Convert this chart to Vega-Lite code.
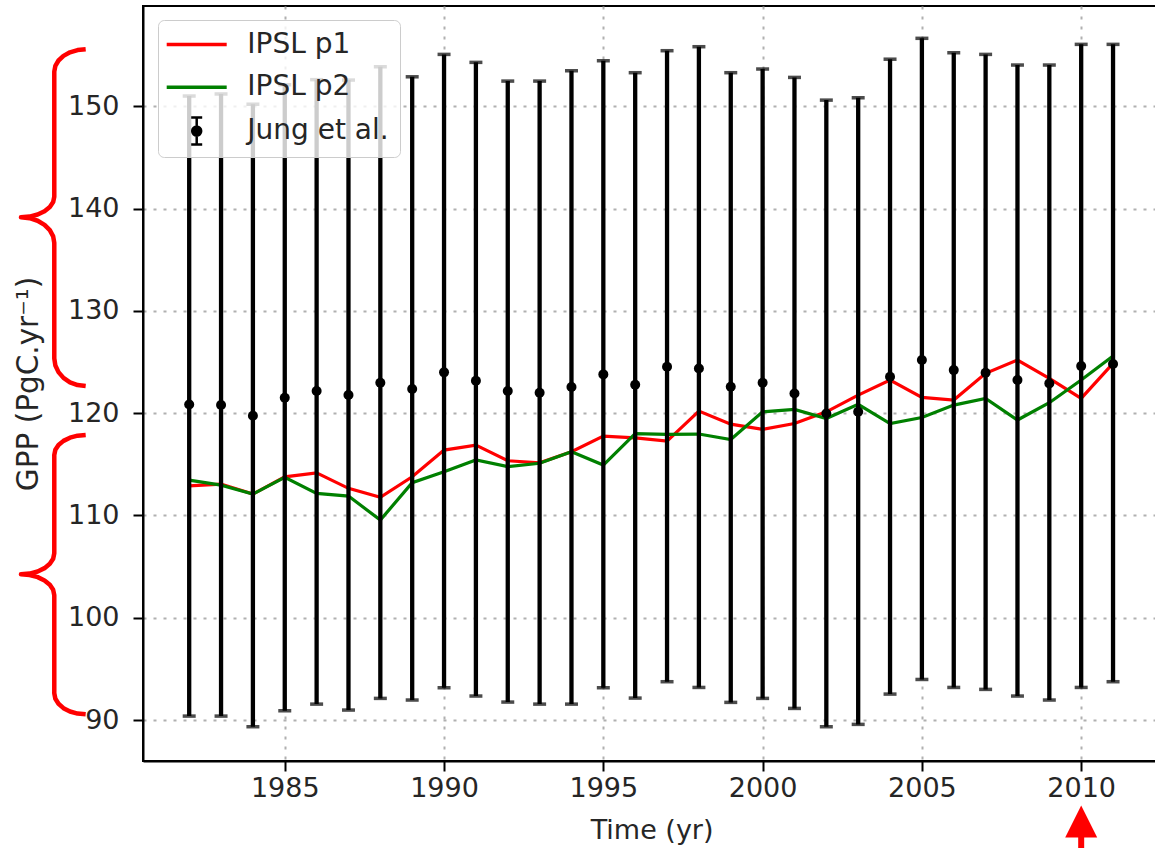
{
  "$schema": "https://vega.github.io/schema/vega-lite/v6.json",
  "width": 1014,
  "height": 755,
  "autosize": {"type": "none"},
  "padding": {"left": 143, "top": 6, "right": -2, "bottom": 87},
  "background": "white",
  "config": {
    "font": "DejaVu Sans",
    "view": {"stroke": "#000000", "strokeWidth": 2},
    "axis": {
      "labelFont": "DejaVu Sans", "labelFontSize": 27, "labelColor": "#262626",
      "titleFont": "DejaVu Sans", "titleFontSize": 27, "titleColor": "#262626", "titleFontWeight": "normal",
      "domainColor": "#000000", "domainWidth": 2, "tickColor": "#000000", "tickWidth": 2, "tickSize": 10,
      "gridColor": "#b0b0b0", "gridWidth": 2, "gridDash": [3, 7]
    }
  },
  "datasets": {
    "ipsl": [
      {"year": 1982, "series": "IPSL p1", "gpp": 112.90}, {"year": 1983, "series": "IPSL p1", "gpp": 113.07},
      {"year": 1984, "series": "IPSL p1", "gpp": 112.09}, {"year": 1985, "series": "IPSL p1", "gpp": 113.78},
      {"year": 1986, "series": "IPSL p1", "gpp": 114.17}, {"year": 1987, "series": "IPSL p1", "gpp": 112.65},
      {"year": 1988, "series": "IPSL p1", "gpp": 111.77}, {"year": 1989, "series": "IPSL p1", "gpp": 113.78},
      {"year": 1990, "series": "IPSL p1", "gpp": 116.39}, {"year": 1991, "series": "IPSL p1", "gpp": 116.88},
      {"year": 1992, "series": "IPSL p1", "gpp": 115.35}, {"year": 1993, "series": "IPSL p1", "gpp": 115.15},
      {"year": 1994, "series": "IPSL p1", "gpp": 116.23}, {"year": 1995, "series": "IPSL p1", "gpp": 117.76},
      {"year": 1996, "series": "IPSL p1", "gpp": 117.58}, {"year": 1997, "series": "IPSL p1", "gpp": 117.27},
      {"year": 1998, "series": "IPSL p1", "gpp": 120.20}, {"year": 1999, "series": "IPSL p1", "gpp": 118.93},
      {"year": 2000, "series": "IPSL p1", "gpp": 118.41}, {"year": 2001, "series": "IPSL p1", "gpp": 118.99},
      {"year": 2002, "series": "IPSL p1", "gpp": 120.13}, {"year": 2003, "series": "IPSL p1", "gpp": 121.77},
      {"year": 2004, "series": "IPSL p1", "gpp": 123.24}, {"year": 2005, "series": "IPSL p1", "gpp": 121.54},
      {"year": 2006, "series": "IPSL p1", "gpp": 121.28}, {"year": 2007, "series": "IPSL p1", "gpp": 123.89},
      {"year": 2008, "series": "IPSL p1", "gpp": 125.19}, {"year": 2009, "series": "IPSL p1", "gpp": 123.40},
      {"year": 2010, "series": "IPSL p1", "gpp": 121.44}, {"year": 2011, "series": "IPSL p1", "gpp": 124.87},
      {"year": 1982, "series": "IPSL p2", "gpp": 113.46}, {"year": 1983, "series": "IPSL p2", "gpp": 112.97},
      {"year": 1984, "series": "IPSL p2", "gpp": 112.09}, {"year": 1985, "series": "IPSL p2", "gpp": 113.72},
      {"year": 1986, "series": "IPSL p2", "gpp": 112.16}, {"year": 1987, "series": "IPSL p2", "gpp": 111.90},
      {"year": 1988, "series": "IPSL p2", "gpp": 109.55}, {"year": 1989, "series": "IPSL p2", "gpp": 113.20},
      {"year": 1990, "series": "IPSL p2", "gpp": 114.27}, {"year": 1991, "series": "IPSL p2", "gpp": 115.42},
      {"year": 1992, "series": "IPSL p2", "gpp": 114.77}, {"year": 1993, "series": "IPSL p2", "gpp": 115.10},
      {"year": 1994, "series": "IPSL p2", "gpp": 116.23}, {"year": 1995, "series": "IPSL p2", "gpp": 114.93},
      {"year": 1996, "series": "IPSL p2", "gpp": 118.01}, {"year": 1997, "series": "IPSL p2", "gpp": 117.92},
      {"year": 1998, "series": "IPSL p2", "gpp": 117.96}, {"year": 1999, "series": "IPSL p2", "gpp": 117.43},
      {"year": 2000, "series": "IPSL p2", "gpp": 120.13}, {"year": 2001, "series": "IPSL p2", "gpp": 120.36},
      {"year": 2002, "series": "IPSL p2", "gpp": 119.48}, {"year": 2003, "series": "IPSL p2", "gpp": 120.86},
      {"year": 2004, "series": "IPSL p2", "gpp": 118.99}, {"year": 2005, "series": "IPSL p2", "gpp": 119.58},
      {"year": 2006, "series": "IPSL p2", "gpp": 120.79}, {"year": 2007, "series": "IPSL p2", "gpp": 121.44},
      {"year": 2008, "series": "IPSL p2", "gpp": 119.33}, {"year": 2009, "series": "IPSL p2", "gpp": 121.02},
      {"year": 2010, "series": "IPSL p2", "gpp": 123.24}, {"year": 2011, "series": "IPSL p2", "gpp": 125.58}
    ],
    "jung": [
      {"year": 1982, "gpp": 120.85, "lo": 90.39, "hi": 151.00},
      {"year": 1983, "gpp": 120.80, "lo": 90.39, "hi": 151.20},
      {"year": 1984, "gpp": 119.75, "lo": 89.35, "hi": 150.20},
      {"year": 1985, "gpp": 121.50, "lo": 90.91, "hi": 152.10},
      {"year": 1986, "gpp": 122.16, "lo": 91.56, "hi": 152.60},
      {"year": 1987, "gpp": 121.77, "lo": 90.98, "hi": 152.56},
      {"year": 1988, "gpp": 122.97, "lo": 92.12, "hi": 153.86},
      {"year": 1989, "gpp": 122.36, "lo": 91.96, "hi": 152.88},
      {"year": 1990, "gpp": 123.99, "lo": 93.16, "hi": 155.07},
      {"year": 1991, "gpp": 123.17, "lo": 92.35, "hi": 154.29},
      {"year": 1992, "gpp": 122.16, "lo": 91.76, "hi": 152.46},
      {"year": 1993, "gpp": 121.99, "lo": 91.56, "hi": 152.46},
      {"year": 1994, "gpp": 122.55, "lo": 91.56, "hi": 153.47},
      {"year": 1995, "gpp": 123.79, "lo": 93.16, "hi": 154.45},
      {"year": 1996, "gpp": 122.78, "lo": 92.15, "hi": 153.28},
      {"year": 1997, "gpp": 124.54, "lo": 93.75, "hi": 155.43},
      {"year": 1998, "gpp": 124.37, "lo": 93.19, "hi": 155.82},
      {"year": 1999, "gpp": 122.59, "lo": 91.73, "hi": 153.28},
      {"year": 2000, "gpp": 122.97, "lo": 92.12, "hi": 153.64},
      {"year": 2001, "gpp": 121.93, "lo": 91.14, "hi": 152.82},
      {"year": 2002, "gpp": 119.97, "lo": 89.35, "hi": 150.60},
      {"year": 2003, "gpp": 120.13, "lo": 89.58, "hi": 150.83},
      {"year": 2004, "gpp": 123.56, "lo": 92.54, "hi": 154.60},
      {"year": 2005, "gpp": 125.19, "lo": 93.97, "hi": 156.64},
      {"year": 2006, "gpp": 124.21, "lo": 93.19, "hi": 155.23},
      {"year": 2007, "gpp": 123.95, "lo": 93.00, "hi": 155.07},
      {"year": 2008, "gpp": 123.24, "lo": 92.35, "hi": 154.03},
      {"year": 2009, "gpp": 122.91, "lo": 91.96, "hi": 154.03},
      {"year": 2010, "gpp": 124.60, "lo": 93.19, "hi": 156.05},
      {"year": 2011, "gpp": 124.80, "lo": 93.75, "hi": 156.05}
    ],
    "brace": [
      {"id": "a", "i": 0, "x": 1978.751, "y": 155.568}, {"id": "a", "i": 1, "x": 1978.496, "y": 155.493},
      {"id": "a", "i": 2, "x": 1978.258, "y": 155.274}, {"id": "a", "i": 3, "x": 1978.054, "y": 154.926},
      {"id": "a", "i": 4, "x": 1977.898, "y": 154.473}, {"id": "a", "i": 5, "x": 1977.799, "y": 153.945},
      {"id": "a", "i": 6, "x": 1977.765, "y": 153.378}, {"id": "a", "i": 7, "x": 1977.765, "y": 141.160},
      {"id": "a", "i": 8, "x": 1977.730, "y": 140.639}, {"id": "a", "i": 9, "x": 1977.625, "y": 140.153},
      {"id": "a", "i": 10, "x": 1977.459, "y": 139.735}, {"id": "a", "i": 11, "x": 1977.243, "y": 139.416},
      {"id": "a", "i": 12, "x": 1976.991, "y": 139.214}, {"id": "a", "i": 13, "x": 1976.720, "y": 139.146},
      {"id": "a", "i": 14, "x": 1976.991, "y": 139.060}, {"id": "a", "i": 15, "x": 1977.243, "y": 138.810},
      {"id": "a", "i": 16, "x": 1977.459, "y": 138.410}, {"id": "a", "i": 17, "x": 1977.625, "y": 137.890},
      {"id": "a", "i": 18, "x": 1977.730, "y": 137.284}, {"id": "a", "i": 19, "x": 1977.765, "y": 136.634},
      {"id": "a", "i": 20, "x": 1977.765, "y": 125.363}, {"id": "a", "i": 21, "x": 1977.799, "y": 124.663},
      {"id": "a", "i": 22, "x": 1977.898, "y": 124.010}, {"id": "a", "i": 23, "x": 1978.054, "y": 123.449},
      {"id": "a", "i": 24, "x": 1978.258, "y": 123.018}, {"id": "a", "i": 25, "x": 1978.496, "y": 122.748},
      {"id": "a", "i": 26, "x": 1978.751, "y": 122.656},
      {"id": "b", "i": 0, "x": 1978.751, "y": 117.866}, {"id": "b", "i": 1, "x": 1978.496, "y": 117.800},
      {"id": "b", "i": 2, "x": 1978.258, "y": 117.604}, {"id": "b", "i": 3, "x": 1978.054, "y": 117.293},
      {"id": "b", "i": 4, "x": 1977.898, "y": 116.889}, {"id": "b", "i": 5, "x": 1977.799, "y": 116.417},
      {"id": "b", "i": 6, "x": 1977.765, "y": 115.911}, {"id": "b", "i": 7, "x": 1977.765, "y": 106.303},
      {"id": "b", "i": 8, "x": 1977.730, "y": 105.771}, {"id": "b", "i": 9, "x": 1977.625, "y": 105.276},
      {"id": "b", "i": 10, "x": 1977.459, "y": 104.851}, {"id": "b", "i": 11, "x": 1977.243, "y": 104.525},
      {"id": "b", "i": 12, "x": 1976.991, "y": 104.320}, {"id": "b", "i": 13, "x": 1976.720, "y": 104.250},
      {"id": "b", "i": 14, "x": 1976.991, "y": 104.179}, {"id": "b", "i": 15, "x": 1977.243, "y": 103.975},
      {"id": "b", "i": 16, "x": 1977.459, "y": 103.649}, {"id": "b", "i": 17, "x": 1977.625, "y": 103.223},
      {"id": "b", "i": 18, "x": 1977.730, "y": 102.729}, {"id": "b", "i": 19, "x": 1977.765, "y": 102.197},
      {"id": "b", "i": 20, "x": 1977.765, "y": 92.618}, {"id": "b", "i": 21, "x": 1977.799, "y": 92.086},
      {"id": "b", "i": 22, "x": 1977.898, "y": 91.591}, {"id": "b", "i": 23, "x": 1978.054, "y": 91.166},
      {"id": "b", "i": 24, "x": 1978.258, "y": 90.840}, {"id": "b", "i": 25, "x": 1978.496, "y": 90.635},
      {"id": "b", "i": 26, "x": 1978.751, "y": 90.565}
    ],
    "arrow": [{"x": 2010, "head": 80.09, "s1": 78.77, "s2": 75.35}]
  },
  "layer": [
    {
      "data": {"name": "ipsl"},
      "mark": {"type": "line", "strokeWidth": 3.2},
      "encoding": {
        "x": {"field": "year", "type": "quantitative",
          "scale": {"domain": [1980.55, 2012.38], "nice": false, "zero": false},
          "axis": {"values": [1985, 1990, 1995, 2000, 2005, 2010], "format": "d", "title": "Time (yr)",
            "labelPadding": 4, "titlePadding": 16, "titleX": 508.6, "grid": true}},
        "y": {"field": "gpp", "type": "quantitative",
          "scale": {"domain": [86, 159.8], "nice": false, "zero": false},
          "axis": {"values": [90, 100, 110, 120, 130, 140, 150], "title": "GPP (PgC.yr⁻¹)", "titleFontSize": 29.5,
            "labelPadding": 14, "titlePadding": 24, "grid": true}},
        "color": {"field": "series", "type": "nominal",
          "scale": {"domain": ["IPSL p1", "IPSL p2", "Jung et al."], "range": ["#ff0000", "#008000", "#000000"]},
          "legend": {
            "orient": "none", "legendX": 15, "legendY": 14, "title": null,
            "fillColor": "rgba(255,255,255,0.8)", "strokeColor": "#cccccc", "cornerRadius": 6, "padding": 10.5,
            "labelFont": "DejaVu Sans", "labelFontSize": 28, "labelColor": "#262626",
            "labelLimit": 400, "rowPadding": 14.8, "symbolSize": 2500, "symbolStrokeWidth": 3.5,
            "encode": {
              "symbols": {"update": {
                "x": {"value": 28.2},
                "shape": {"signal": "datum.value === 'Jung et al.' ? 'M0,-0.54V0.54M-0.22,-0.54H0.22M-0.22,0.54H0.22M0.18,0A0.18,0.18 0 1,1 -0.18,0A0.18,0.18 0 1,1 0.18,0Z' : 'M-1.2,0H1.2'"},
                "stroke": {"signal": "datum.value === 'IPSL p1' ? '#ff0000' : datum.value === 'IPSL p2' ? '#008000' : '#000000'"},
                "fill": {"signal": "datum.value === 'Jung et al.' ? '#000000' : 'transparent'"},
                "strokeWidth": {"signal": "datum.value === 'Jung et al.' ? 2.5 : 3.5"},
                "strokeJoin": {"value": "round"},
                "opacity": {"value": 1}, "fillOpacity": {"value": 1}, "strokeOpacity": {"value": 1}
              }},
              "labels": {"update": {"x": {"value": 78.8}}}
            }
          }}
      }
    },
    {
      "data": {"name": "jung"},
      "mark": {"type": "rule", "color": "#000000", "strokeWidth": 4.3},
      "encoding": {
        "x": {"field": "year", "type": "quantitative"},
        "y": {"field": "lo", "type": "quantitative"},
        "y2": {"field": "hi"}
      }
    },
    {
      "data": {"name": "jung"},
      "layer": [
        {"mark": {"type": "tick", "orient": "horizontal", "color": "#000000", "size": 13, "thickness": 3.5},
         "encoding": {"x": {"field": "year", "type": "quantitative"}, "y": {"field": "lo", "type": "quantitative"}}},
        {"mark": {"type": "tick", "orient": "horizontal", "color": "#000000", "size": 13, "thickness": 3.5},
         "encoding": {"x": {"field": "year", "type": "quantitative"}, "y": {"field": "hi", "type": "quantitative"}}},
        {"mark": {"type": "point", "filled": true, "color": "#000000", "size": 100, "opacity": 1},
         "encoding": {"x": {"field": "year", "type": "quantitative"}, "y": {"field": "gpp", "type": "quantitative"}}}
      ]
    },
    {
      "data": {"name": "brace"},
      "mark": {"type": "line", "color": "#ff0000", "strokeWidth": 4.5, "strokeJoin": "round", "clip": false},
      "encoding": {
        "x": {"field": "x", "type": "quantitative"},
        "y": {"field": "y", "type": "quantitative"},
        "detail": {"field": "id"},
        "order": {"field": "i", "type": "quantitative"}
      }
    },
    {
      "data": {"name": "arrow"},
      "layer": [
        {"mark": {"type": "rule", "color": "#ff0000", "strokeWidth": 6, "clip": false},
         "encoding": {"x": {"field": "x", "type": "quantitative"}, "y": {"field": "s1", "type": "quantitative"}, "y2": {"field": "s2"}}},
        {"mark": {"type": "point", "shape": "M0,-1L1,1L-1,1Z", "filled": true, "color": "#ff0000", "size": 1024, "opacity": 1, "clip": false},
         "encoding": {"x": {"field": "x", "type": "quantitative"}, "y": {"field": "head", "type": "quantitative"}}}
      ]
    }
  ]
}
